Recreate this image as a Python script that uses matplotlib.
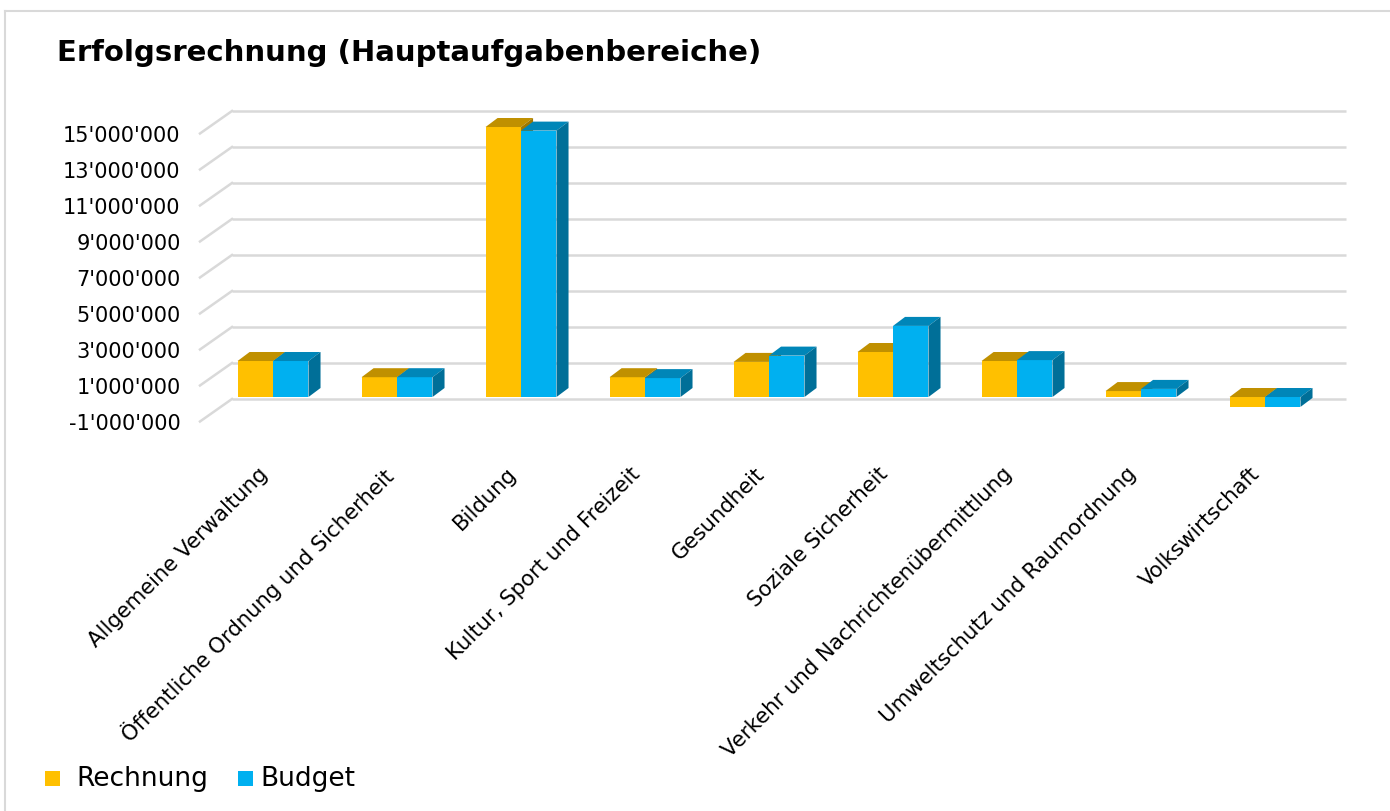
import matplotlib.pyplot as plt
import matplotlib.transforms as mtransforms
from matplotlib.patches import Polygon, Rectangle
from matplotlib.lines import Line2D

categories = [
    "Allgemeine Verwaltung",
    "Öffentliche Ordnung und Sicherheit",
    "Bildung",
    "Kultur, Sport und Freizeit",
    "Gesundheit",
    "Soziale Sicherheit",
    "Verkehr und Nachrichtenübermittlung",
    "Umweltschutz und Raumordnung",
    "Volkswirtschaft",
]
# values in millions
rechnung = [2.0, 1.1, 15.0, 1.1, 1.95, 2.5, 2.0, 0.33, -0.55]
budget = [2.0, 1.1, 14.8, 1.05, 2.3, 3.95, 2.05, 0.45, -0.55]
tick_values = [-1, 1, 3, 5, 7, 9, 11, 13, 15]
series_names = ["Rechnung", "Budget"]

colors = {
    "Rechnung": ("#FFC000", "#C09000", "#A07800"),
    "Budget": ("#00B0F0", "#0086B8", "#006F98"),
}
grid_color = "#D9D9D9"

W, H = 1390, 812
fig = plt.figure(figsize=(W / 100, H / 100), dpi=100)
ax = fig.add_axes([200 / W, 1 - 440 / H, 1146 / W, 340 / H])
ax.set_xlim(-0.589, 8.653)
ax.set_ylim(-2.333, 16.556)
for s in ax.spines.values():
    s.set_visible(False)

# 3d-ish offsets (data units)
back_dy = 0.89
front_dy = -0.36
back_x0 = -0.331
back_x1 = 8.653
front_x = -0.589
bar_w = 0.286
dx, dy = 0.097, 0.5

# gridlines: back wall + left diagonal
for v in tick_values:
    ax.plot([back_x0, back_x1], [v + back_dy, v + back_dy], color=grid_color,
            lw=1.8, zorder=1, clip_on=False, solid_capstyle="butt")
    ax.plot([front_x, back_x0], [v + front_dy, v + back_dy], color=grid_color,
            lw=1.8, zorder=1, clip_on=False)

ax.set_yticks([v + front_dy for v in tick_values])
ax.set_yticklabels([f"{v:,}'000'000".replace(",", "'") if v >= 0 else f"-{-v}'000'000"
                    for v in tick_values])
ax.tick_params(axis="y", length=0, pad=14, labelsize=15)

def draw_series(xs, vals, name, z):
    front, top, side = colors[name]
    ax.bar(xs, vals, width=bar_w, align="edge", color=front, zorder=z, linewidth=0)
    for x0, v in zip(xs, vals):
        yt = max(v, 0)
        ylo, yhi = min(v, 0), max(v, 0)
        ax.add_patch(Polygon([(x0, yt), (x0 + dx, yt + dy), (x0 + bar_w + dx, yt + dy),
                              (x0 + bar_w, yt)], closed=True, color=top, lw=0, zorder=z))
        ax.add_patch(Polygon([(x0 + bar_w, ylo), (x0 + bar_w + dx, ylo + dy),
                              (x0 + bar_w + dx, yhi + dy), (x0 + bar_w, yhi)],
                             closed=True, color=side, lw=0, zorder=z))

pos = list(range(len(categories)))
draw_series([p - bar_w for p in pos], rechnung, "Rechnung", 3)
draw_series(pos, budget, "Budget", 4)

ax.set_xticks(pos)
ax.set_xticklabels(categories, rotation=45, ha="right", va="top", rotation_mode="anchor")
ax.tick_params(axis="x", length=0, pad=17, labelsize=15.3)
shift = mtransforms.ScaledTranslation(-0.15, 0, fig.dpi_scale_trans)
for lbl in ax.get_xticklabels():
    lbl.set_transform(lbl.get_transform() + shift)

fig.text(57 / W, 1 - 53 / H, "Erfolgsrechnung (Hauptaufgabenbereiche)",
         fontsize=21, fontweight="bold", va="center", ha="left")

# chart frame
fig.add_artist(Line2D([5 / W, 1], [1 - 12 / H, 1 - 12 / H], color=grid_color, lw=1.5))
fig.add_artist(Line2D([5 / W, 5 / W], [0, 1 - 12 / H], color=grid_color, lw=1.5))

# legend
legend_sq = [45, 238]
legend_tx = [76, 260]
for name, sx, tx in zip(series_names, legend_sq, legend_tx):
    fig.add_artist(Rectangle((sx / W, 1 - 787 / H), 15 / W, 15 / H,
                             color=colors[name][0], lw=0))
    fig.text(tx / W, 1 - 779 / H, name, fontsize=19, va="center", ha="left")

fig.savefig("out.png", dpi=100)
